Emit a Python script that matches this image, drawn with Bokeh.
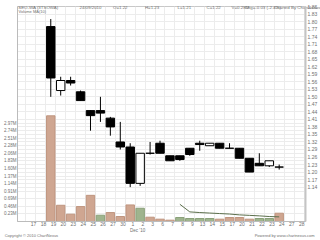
from bokeh.plotting import figure
from bokeh.models import (Range1d, LinearAxis, FixedTicker, Grid, Label,
                          PrintfTickFormatter, NumeralTickFormatter, ColumnDataSource)
from bokeh.embed import file_html
from bokeh.resources import INLINE

# ---- data ----
day_labels = ["17", "18", "19", "20", "23", "24", "25", "26", "27", "30",
              "1", "2", "3", "6", "7", "8", "9", "13", "14", "15",
              "17", "20", "21", "22", "23", "24", "27", "28"]
first_trade_slot = 2  # slot of the first candle ("19")

opens = [1.78, 1.525, 1.565, 1.52, 1.445, 1.445, 1.415, 1.32, 1.30, 1.155, 1.275, 1.315,
         1.265, 1.265, 1.295, 1.315, 1.305, 1.315, 1.295, 1.295, 1.255, 1.235, 1.225, 1.22]
highs = [1.81, 1.58, 1.58, 1.525, 1.445, 1.50, 1.42, 1.40, 1.315, 1.275, 1.32, 1.325,
         1.265, 1.265, 1.295, 1.325, 1.315, 1.315, 1.315, 1.295, 1.255, 1.275, 1.245, 1.23]
lows = [1.50, 1.505, 1.545, 1.485, 1.365, 1.40, 1.345, 1.29, 1.14, 1.145, 1.27, 1.275,
        1.245, 1.245, 1.265, 1.285, 1.305, 1.295, 1.295, 1.255, 1.20, 1.225, 1.22, 1.21]
closes = [1.575, 1.565, 1.555, 1.485, 1.425, 1.435, 1.38, 1.30, 1.155, 1.275, 1.275, 1.275,
          1.245, 1.25, 1.27, 1.31, 1.315, 1.295, 1.295, 1.255, 1.20, 1.225, 1.245, 1.22]
volumes_m = [3.19, 0.49, 0.22, 0.45, 0.79, 0.19, 0.27, 0.15, 0.50, 0.40, 0.13, 0.07,
             0.04, 0.12, 0.09, 0.09, 0.09, 0.07, 0.12, 0.12, 0.07, 0.09, 0.09, 0.25]
vol_ma_start = 13
vol_ma10 = [0.52, 0.29, 0.27, 0.255, 0.24, 0.225, 0.20, 0.185, 0.17, 0.15, 0.14]

price_ticks = [1.14, 1.17, 1.20, 1.23, 1.26, 1.29, 1.32, 1.35, 1.38, 1.41, 1.44, 1.47,
               1.50, 1.53, 1.56, 1.59, 1.62, 1.65, 1.68, 1.71, 1.74, 1.77, 1.80, 1.83, 1.86]
vol_ticks = [0.23, 0.46, 0.69, 0.91, 1.14, 1.37, 1.60, 1.83, 2.06, 2.28, 2.51, 2.74, 2.97]

header_texts = ["SEO-WA (3TSOWA)", "24/09/2010", "O=1.22", "H=1.23", "L=1.21", "C=1.22",
                "V=0.28M", "Chg=-0.03 (-2.4%)", "Charted By ChartNexus"]
month_label = "Dec '10"
footer_texts = ["Copyright \u00a9 2010 ChartNexus", "Powered by www.chartnexus.com"]
# ---------------------------------------

FONT = "Liberation Sans"
TXT = "#707070"
SHIFT = 0.27
FL = 15            # frame left in px
X0 = -1.62         # x_range start
PX = 10.0          # px per slot


def px_to_x(px):
    return round((px - FL) / PX + X0, 2)


n = len(opens)
xs = [first_trade_slot + i - SHIFT for i in range(n)]
up = [c > o for o, c in zip(opens, closes)]
body_top = [max(o, c) for o, c in zip(opens, closes)]
body_bot = [min(o, c) for o, c in zip(opens, closes)]
body_fill = ["white" if u else "black" for u in up]
vol_up = [False] + [closes[i] > closes[i - 1] for i in range(1, n)]
vol_fill = ["#9fb48e" if u else "#cfa691" for u in vol_up]
vol_line = ["#8aa079" if u else "#bf957f" for u in vol_up]

src = ColumnDataSource(dict(x=xs, o=opens, h=highs, l=lows, c=closes, top=body_top,
                            bot=body_bot, fill=body_fill, vol=volumes_m,
                            vfill=vol_fill, vline=vol_line))

p = figure(width=320, height=240, output_backend="svg", toolbar_location=None,
           x_range=Range1d(X0, X0 + 29.0), y_range=Range1d(1.003, 1.86),
           y_axis_location="right",
           min_border_left=15, min_border_right=15, min_border_top=6, min_border_bottom=18)
p.background_fill_color = "white"
p.border_fill_color = "white"
p.outline_line_color = "#c8c8c8"

p.extra_y_ranges = {"vol": Range1d(0, 6.49)}

# volume bars + MA
p.vbar(x="x", top="vol", bottom=0, width=0.85, fill_color="vfill", line_color="vline",
       line_width=1, source=src, y_range_name="vol")
p.line([first_trade_slot + vol_ma_start + i - SHIFT for i in range(len(vol_ma10))], vol_ma10,
       line_color="#5c6f4c", line_width=1, y_range_name="vol")

# candles
p.segment(x0="x", y0="h", x1="x", y1="l", line_color="black", line_width=1, source=src)
p.vbar(x="x", top="top", bottom="bot", width=0.85, fill_color="fill", line_color="black",
       line_width=1, source=src)


def style_axis(ax, size="5px", standoff=1, line=None, lw=1):
    ax.major_tick_out = 0
    ax.major_tick_in = 0
    ax.minor_tick_out = 0
    ax.minor_tick_in = 0
    ax.major_label_standoff = standoff
    ax.axis_line_color = line
    ax.axis_line_width = lw
    ax.major_label_text_font_size = size
    ax.major_label_text_font = FONT
    ax.major_label_text_color = TXT


# day axis
p.xaxis.ticker = FixedTicker(ticks=list(range(len(day_labels))))
p.xaxis.major_label_overrides = {k: lab for k, lab in enumerate(day_labels)}
style_axis(p.xaxis[0], size="5px", standoff=0, line="#bbbbbb")

# price axis (right)
yax = p.yaxis[0]
yax.ticker = FixedTicker(ticks=price_ticks)
yax.formatter = NumeralTickFormatter(format="0.00")
style_axis(yax, size="5px", standoff=2, line="#c4c4c4", lw=2)

# volume axis (left)
vax = LinearAxis(y_range_name="vol", ticker=FixedTicker(ticks=vol_ticks),
                 formatter=PrintfTickFormatter(format="%.2fM"))
style_axis(vax, size="4.5px", standoff=1, line="#bbbbbb")
p.add_layout(vax, "left")

# month axis (below the day labels)
m_tick = px_to_x(136)
max_ = LinearAxis(ticker=FixedTicker(ticks=[m_tick]),
                  major_label_overrides={m_tick: month_label})
style_axis(max_, size="4.5px", standoff=-1)
p.add_layout(max_, "below")

# footer line
foot_px = [29, 284]
foot_ticks = [px_to_x(v) for v in foot_px]
fax = LinearAxis(ticker=FixedTicker(ticks=foot_ticks),
                 major_label_overrides={t: s for t, s in zip(foot_ticks, footer_texts)})
style_axis(fax, size="4px", standoff=-3)
p.add_layout(fax, "below")

# header line
head_px = [36, 88.5, 118.5, 150.5, 183, 212.5, 239.5, 262, 299]
head_ticks = [px_to_x(v) for v in head_px]
hax = LinearAxis(ticker=FixedTicker(ticks=head_ticks),
                 major_label_overrides={t: s for t, s in zip(head_ticks, header_texts)})
style_axis(hax, size="4.4px", standoff=-3)
p.add_layout(hax, "above")

# grids
p.xgrid.ticker = FixedTicker(ticks=[k + 0.23 for k in range(-2, len(day_labels))])
p.xgrid.grid_line_color = "#ececec"
p.ygrid.ticker = FixedTicker(ticks=price_ticks)
p.ygrid.grid_line_color = "#ececec"
p.add_layout(Grid(dimension=1, ticker=FixedTicker(ticks=vol_ticks), y_range_name="vol",
                  grid_line_color="#ececec"))

# in-plot caption
p.add_layout(Label(x=1, y=210, x_units="screen", y_units="screen", text="Volume MA(10)",
                   text_font=FONT, text_font_size="4px", text_color=TXT,
                   text_align="left", text_baseline="middle"))

open("out.html", "w").write(file_html(p, INLINE))
